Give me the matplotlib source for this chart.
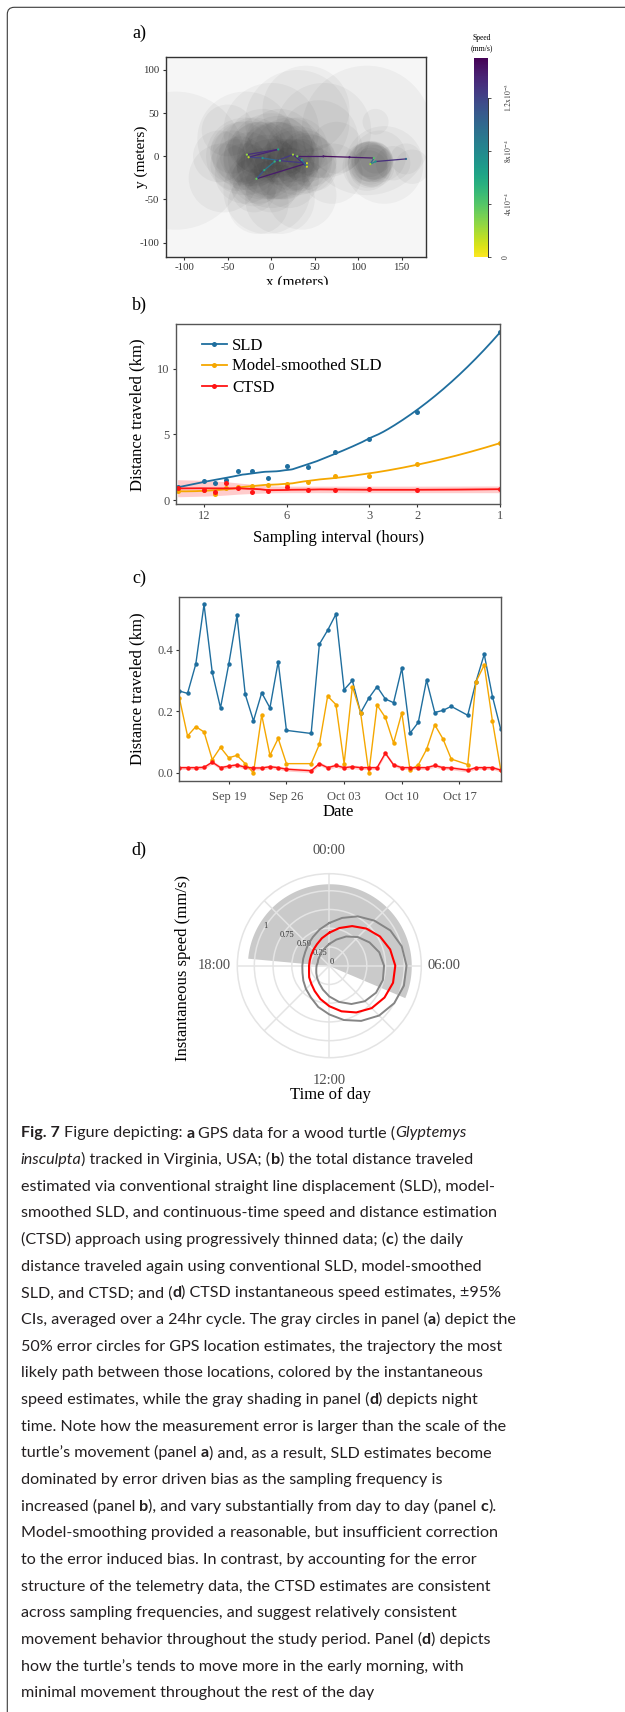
#Turtle movement figure: GPS error circles, distance traveled, daily distance, speed by hour

import numpy as np
import pandas as pd
import matplotlib
matplotlib.use("Agg")
import matplotlib.pyplot as plt
import matplotlib.patches as mpatches
import matplotlib.transforms as mtransforms
from matplotlib.collections import LineCollection, PatchCollection
from matplotlib.lines import Line2D
from matplotlib.ticker import NullLocator

# ---------------- data ----------------
# a) 50% GPS error circles (meters)
circ_x = [-30, -20, -10, 0, 10, 20, 30, 40, -25, -15, -20, 5, 25, 35, -5, 15, -35, 45, 8, -28,
          -40, -30, 0, 20, 30, -10, 10, -45, 50, -20, 0, -15, 25, 40, -35, 5,
          0, 30, 60, -30, -15, 35, 10, 70, -60, -110, 40, 110, 75, -50, -5, 55, -55,
          113, 118, 115, 110, 120, 112, 116, 114, 119, 111, 117, 113, 120, 155, 162, 140, 125, 130]
circ_y = [0, 5, -5, 0, -5, 5, -5, -8, -2, -25, -30, 5, 0, -10, -10, -15, 5, -5, 7, 1,
          -10, -20, -20, -25, 10, 15, 15, 5, -15, -40, -35, 10, -10, 0, -5, -5,
          30, 40, 30, 20, -55, -45, -50, -20, 0, -5, 55, 30, 10, 30, -40, 20, -25,
          -8, -5, -10, -12, -2, -15, -6, -9, -7, -6, -11, -3, 40, -3, -12, -8, 0, -10]
circ_r = [45, 40, 45, 50, 45, 40, 40, 35, 30, 30, 28, 35, 30, 30, 35, 35, 35, 30, 40, 40,
          30, 35, 40, 35, 35, 40, 40, 25, 25, 25, 30, 30, 30, 30, 28, 45,
          55, 60, 55, 55, 35, 40, 40, 35, 30, 80, 50, 75, 30, 30, 50, 45, 40,
          25, 22, 20, 28, 18, 22, 24, 26, 20, 23, 25, 21, 15, 18, 20, 20, 30, 45]

# most likely path and instantaneous speed (mm/s)
path_x = [-28, 8, -26, -10, 10, 41, -17, -8, 4, 25, 41, 35, 30, 60, 90, 118, 114, 120, 155]
path_y = [2, 8, -1, -2, -5, -8, -26, -16, -6, 2, -12, -4, 0, 0, -1, -2, -9, -6, -3]
seg_speed = [1.30e-3, 1.35e-3, 1.20e-3, 1.00e-3, 1.25e-3, 1.40e-3, 1.10e-3, 0.90e-3, 1.25e-3,
             1.30e-3, 0.95e-3, 1.20e-3, 1.40e-3, 1.45e-3, 1.40e-3, 1.00e-3, 0.80e-3, 1.30e-3]
node_speed = [0.25e-3, 0.6e-3, 0.15e-3, 0.7e-3, 0.45e-3, 0.1e-3, 0.35e-3, 0.55e-3, 0.5e-3, 0.2e-3,
              0.1e-3, 0.6e-3, 0.3e-3, 1.4e-3, 1.4e-3, 0.4e-3, 0.2e-3, 0.7e-3, 1.0e-3]

# b) total distance (km) vs sampling interval (hours)
interval_h = [15, 12, 11, 10, 9, 8, 7, 6, 5, 4, 3, 2, 1]
sld_km = [1.0, 1.47, 1.27, 1.5, 2.21, 2.24, 1.65, 2.57, 2.55, 3.69, 4.66, 6.67, 12.8]
msld_km = [0.7, 0.76, 0.46, 0.89, 1.02, 1.07, 1.14, 1.22, 1.4, 1.86, 1.86, 2.72, 4.33]
ctsd_km = [0.95, 0.76, 0.63, 1.32, 0.94, 0.63, 0.70, 0.96, 0.76, 0.76, 0.82, 0.76, 0.83]
ctsd_lo = [0.25, 0.3, 0.33, 0.38, 0.45, 0.5, 0.55, 0.56, 0.56, 0.56, 0.56, 0.56, 0.56]
ctsd_hi = [1.55, 1.5, 1.45, 1.4, 1.3, 1.2, 1.08, 1.06, 1.06, 1.06, 1.06, 1.06, 1.07]

# c) daily distance (km); days counted from Sep 13
day_idx = [0, 1, 2, 3, 4, 5, 6, 7, 8, 9, 10, 11, 12, 13, 16, 17, 18, 19, 20, 21, 22, 23, 24, 25,
           26, 27, 28, 29, 30, 31, 32, 33, 35, 36, 37, 38, 39]
sld_day = [0.266, 0.258, 0.353, 0.547, 0.326, 0.211, 0.353, 0.511, 0.255, 0.169, 0.26, 0.211,
           0.361, 0.138, 0.128, 0.418, 0.463, 0.515, 0.27, 0.30, 0.195, 0.243, 0.28, 0.24, 0.228,
           0.34, 0.129, 0.164, 0.301, 0.196, 0.203, 0.216, 0.187, 0.296, 0.385, 0.248, 0.142]
msld_day = [0.244, 0.12, 0.15, 0.133, 0.043, 0.083, 0.049, 0.057, 0.03, 0.0, 0.188, 0.057, 0.112,
            0.03, 0.03, 0.093, 0.249, 0.222, 0.03, 0.28, 0.195, 0.0, 0.22, 0.18, 0.097, 0.195,
            0.009, 0.026, 0.076, 0.156, 0.11, 0.045, 0.027, 0.296, 0.35, 0.168, 0.011]
ctsd_day = [0.017, 0.017, 0.017, 0.018, 0.035, 0.017, 0.022, 0.026, 0.018, 0.016, 0.016, 0.02,
            0.017, 0.012, 0.007, 0.03, 0.017, 0.024, 0.017, 0.02, 0.017, 0.017, 0.017, 0.064,
            0.026, 0.017, 0.017, 0.017, 0.017, 0.024, 0.017, 0.016, 0.009, 0.017, 0.017, 0.017, 0.009]
ctsd_day_ci = 0.006

# d) instantaneous speed (mm/s) by hour of day
hour_of_day = list(range(24))
speed_mean = [0.44, 0.52, 0.61, 0.70, 0.78, 0.84, 0.88, 0.88, 0.85, 0.80, 0.72, 0.63,
              0.54, 0.46, 0.39, 0.34, 0.31, 0.28, 0.27, 0.27, 0.28, 0.30, 0.33, 0.38]
speed_hi = [0.57, 0.66, 0.76, 0.85, 0.94, 1.00, 1.03, 1.03, 1.00, 0.94, 0.85, 0.75,
            0.65, 0.57, 0.49, 0.44, 0.40, 0.37, 0.36, 0.36, 0.37, 0.40, 0.44, 0.50]
speed_lo = [0.29, 0.36, 0.45, 0.54, 0.62, 0.69, 0.73, 0.74, 0.72, 0.67, 0.59, 0.50,
            0.41, 0.33, 0.27, 0.23, 0.20, 0.18, 0.17, 0.16, 0.17, 0.18, 0.21, 0.24]
night_start, night_end = 18.35, 7.53

# ---------------- figure ----------------
W, H = 625, 1712
plt.rcParams['font.family'] = ['Liberation Serif', 'DejaVu Serif']
plt.rcParams['mathtext.fontset'] = 'stix'
plt.rcParams['axes.unicode_minus'] = False
fig = plt.figure(figsize=(W / 100, H / 100), dpi=100)


def box(l, t, r, b):
    return [l / W, 1 - b / H, (r - l) / W, (b - t) / H]


def ftext(x, y, s, **kw):
    return fig.text(x / W, 1 - y / H, s, **kw)


def loess(x, y, xg, span=0.75):
    # local quadratic fit with tricube weights (like geom_smooth's default)
    x = np.asarray(x, float)
    y = np.asarray(y, float)
    q = int(np.floor(len(x) * span))
    out = []
    for x0 in xg:
        d = np.abs(x - x0)
        h = np.sort(d)[q - 1]
        w = np.clip(1 - (d / h) ** 3, 0, None) ** 3
        coef = np.polyfit(x - x0, y, 2, w=np.sqrt(w))
        out.append(coef[-1])
    return np.array(out)


BLUE, ORANGE, RED = '#1f6e9e', '#f5a700', '#ff1414'
TICK = '#4d4d4d'

# ---- a) ----
axa = fig.add_axes(box(165.7, 57.3, 426, 257))
axa.set_facecolor('#f6f6f6')
circles = [mpatches.Circle((x, y), r) for x, y, r in zip(circ_x, circ_y, circ_r)]
axa.add_collection(PatchCollection(circles, facecolor='black', edgecolor='none', alpha=0.037))
pts = np.column_stack([path_x, path_y])
segs = np.stack([pts[:-1], pts[1:]], axis=1)
norm = plt.Normalize(0, 1.5e-3)
lc = LineCollection(segs, cmap='viridis_r', norm=norm, linewidths=0.9, zorder=3)
lc.set_array(np.array(seg_speed))
axa.add_collection(lc)
axa.scatter(path_x, path_y, c=node_speed, cmap='viridis_r', norm=norm, s=2.5, marker='o',
            linewidths=0, zorder=4)
axa.set_xlim(-121.4, 178)
axa.set_ylim(-116.6, 114.7)
axa.set_xticks([-100, -50, 0, 50, 100, 150])
axa.set_yticks([-100, -50, 0, 50, 100])
axa.tick_params(length=2.5, width=0.8, color='#333333', labelsize=7.8, labelcolor='#333333', pad=2)
for s in axa.spines.values():
    s.set_color('#333333')
    s.set_linewidth(1.0)
ftext(141.7, 156.7, 'y (meters)', rotation=90, ha='center', va='center', fontsize=11)
ftext(296.7, 286, 'x (meters)', ha='center', va='baseline', fontsize=11)
# lower part of the x title is hidden under panel b
fig.add_artist(mpatches.Rectangle((120 / W, 1 - 292 / H), 340 / W, 7.5 / H,
                                  transform=fig.transFigure, color='white', zorder=5))

cax = fig.add_axes(box(474.3, 57.7, 488.3, 257.3))
sm = plt.cm.ScalarMappable(norm=norm, cmap='viridis_r')
cb = fig.colorbar(sm, cax=cax)
cb.outline.set_visible(False)
cb.set_ticks([0, 4e-4, 8e-4, 1.2e-3])
cb.set_ticklabels(['0', r'$4\mathrm{x}10^{-4}$', r'$8\mathrm{x}10^{-4}$', r'$1.2\mathrm{x}10^{-3}$'])
cax.tick_params(length=2, width=0.6, color='#333333', labelsize=5.5, labelcolor='#333333', pad=8)
for lab in cax.get_yticklabels():
    lab.set_rotation(90)
    lab.set_va('center')
cax.plot([1, 1], [0, 1.2e-3], color='#333333', lw=0.7, clip_on=False)
ftext(481.7, 43, 'Speed\n(mm/s)', ha='center', va='center', fontsize=5.5, linespacing=1.3)

# ---- b) ----
axb = fig.add_axes(box(176, 324, 500, 504))
axb.fill_between(interval_h, ctsd_lo, ctsd_hi, color='#ff0000', alpha=0.2, lw=0)
u = np.log(interval_h)
ug = np.linspace(u.min(), u.max(), 200)
series_b = [(sld_km, BLUE, 'SLD'), (msld_km, ORANGE, 'Model-smoothed SLD'), (ctsd_km, RED, 'CTSD')]
for vals, col, name in series_b:
    axb.plot(np.exp(ug), loess(u, vals, ug), color=col, lw=1.3)
    axb.plot(interval_h, vals, 'o', color=col, ms=3.6, mew=0)
axb.set_xscale('log')
axb.set_xlim(15.2, 1)
axb.set_ylim(-0.3, 13.4)
axb.set_xticks([12, 6, 3, 2, 1])
axb.set_xticklabels(['12', '6', '3', '2', '1'])
axb.xaxis.set_minor_locator(NullLocator())
axb.set_yticks([0, 5, 10])
handles = [Line2D([], [], color=c, marker='o', ms=3.6, mew=0, lw=1.3) for _, c, _ in series_b]
axb.legend(handles, [n for _, _, n in series_b], loc='upper left', bbox_to_anchor=(0.08, 0.925),
           frameon=False, fontsize=12, handlelength=1.5, handletextpad=0.3,
           labelspacing=0.3, borderpad=0, borderaxespad=0)
ftext(137.3, 415, 'Distance traveled (km)', rotation=90, ha='center', va='center', fontsize=12)
ftext(338.3, 538.3, 'Sampling interval (hours)', ha='center', va='center', fontsize=12)

# ---- c) ----
axc = fig.add_axes(box(179.3, 596.7, 500.7, 780.5))
dates = pd.Timestamp('2016-09-13') + pd.to_timedelta(day_idx, unit='D')
ctsd_arr = np.array(ctsd_day)
axc.fill_between(dates, ctsd_arr - ctsd_day_ci, ctsd_arr + ctsd_day_ci, color='#ff0000',
                 alpha=0.2, lw=0)
axc.plot(dates, sld_day, '-o', color=BLUE, lw=1.0, ms=3.2, mew=0)
axc.plot(dates, msld_day, '-o', color=ORANGE, lw=1.0, ms=3.2, mew=0)
axc.plot(dates, ctsd_day, '-o', color=RED, lw=1.0, ms=3.2, mew=0)
axc.set_xlim(dates[0], dates[-1])
axc.set_ylim(-0.0247, 0.572)
xt = pd.to_datetime(['2016-09-19', '2016-09-26', '2016-10-03', '2016-10-10', '2016-10-17'])
axc.set_xticks(xt)
axc.set_xticklabels([d.strftime('%b %d') for d in xt])
axc.set_yticks([0.0, 0.2, 0.4])
axc.set_yticklabels(['0.0', '0.2', '0.4'])
ftext(137.3, 688.3, 'Distance traveled (km)', rotation=90, ha='center', va='center', fontsize=12)
ftext(338.3, 811.7, 'Date', ha='center', va='center', fontsize=12)

for ax in (axb, axc):
    ax.tick_params(length=2.5, width=0.8, color='#333333', labelsize=9, labelcolor=TICK, pad=2)
    for s in ax.spines.values():
        s.set_color('#555555')
        s.set_linewidth(1.0)
axc.tick_params(axis='x', pad=5)

# ---- d) ----
axd = fig.add_axes(box(237.3, 873.7, 421.3, 1057.7), projection='polar')
axd.set_theta_zero_location('N')
axd.set_theta_direction(-1)
hours = np.array(hour_of_day + [24])
theta = hours / 24 * 2 * np.pi
th_night = np.linspace(night_start, night_end + 24, 300) / 24 * 2 * np.pi
axd.fill_between(th_night, 0, 1.093, color='#cacaca', lw=0, zorder=0.5)
axd.plot(theta, speed_hi + speed_hi[:1], color='#858585', lw=1.4, zorder=3)
axd.plot(theta, speed_lo + speed_lo[:1], color='#858585', lw=1.4, zorder=3)
axd.plot(theta, speed_mean + speed_mean[:1], color='#ff0000', lw=1.5, zorder=4)
axd.set_ylim(0, 1.227)
axd.set_axisbelow(False)
axd.set_xticks(np.arange(8) * np.pi / 4)
axd.set_xticklabels([''] * 8)
axd.set_yticks([0, 0.25, 0.5, 0.75, 1])
axd.set_yticklabels(['0', '0.25', '0.50', '0.75', '1'])
axd.set_rlabel_position(298)
axd.tick_params(axis='y', labelsize=6, labelcolor='#333333')
for lab in axd.get_yticklabels():
    lab.set_rotation(55)
axd.grid(True, color='#e4e4e4', lw=1.1)
axd.spines['polar'].set_color('#e4e4e4')
axd.spines['polar'].set_linewidth(1.1)
for hh, lab in zip([0, 6, 12, 18], ['00:00', '06:00', '12:00', '18:00']):
    axd.text(hh / 24 * 2 * np.pi, 1.53, lab, ha='center', va='center', fontsize=10.5,
             color=TICK, clip_on=False)
ftext(183.3, 968, 'Instantaneous speed (mm/s)', rotation=90, ha='center', va='center', fontsize=12)
ftext(330, 1095, 'Time of day', ha='center', va='center', fontsize=12)

# panel letters
for lab, yy in zip(['a)', 'b)', 'c)', 'd)'], [33.5, 305, 578, 850]):
    ftext(139, yy, lab, ha='center', va='center', fontsize=13)

# ---- caption ----
caption = [
    [("Fig. 7", "b"), (" Figure depicting: ", "r"), ("a", "b"), (" GPS data for a wood turtle (", "r"), ("Glyptemys", "i")],
    [("insculpta", "i"), (") tracked in Virginia, USA; (", "r"), ("b", "b"), (") the total distance traveled", "r")],
    [("estimated via conventional straight line displacement (SLD), model-", "r")],
    [("smoothed SLD, and continuous-time speed and distance estimation", "r")],
    [("(CTSD) approach using progressively thinned data; (", "r"), ("c", "b"), (") the daily", "r")],
    [("distance traveled again using conventional SLD, model-smoothed", "r")],
    [("SLD, and CTSD; and (", "r"), ("d", "b"), (") CTSD instantaneous speed estimates, \u00b195%", "r")],
    [("CIs, averaged over a 24hr cycle. The gray circles in panel (", "r"), ("a", "b"), (") depict the", "r")],
    [("50% error circles for GPS location estimates, the trajectory the most", "r")],
    [("likely path between those locations, colored by the instantaneous", "r")],
    [("speed estimates, while the gray shading in panel (", "r"), ("d", "b"), (") depicts night", "r")],
    [("time. Note how the measurement error is larger than the scale of the", "r")],
    [("turtle\u2019s movement (panel ", "r"), ("a", "b"), (") and, as a result, SLD estimates become", "r")],
    [("dominated by error driven bias as the sampling frequency is", "r")],
    [("increased (panel ", "r"), ("b", "b"), ("), and vary substantially from day to day (panel ", "r"), ("c", "b"), (").", "r")],
    [("Model-smoothing provided a reasonable, but insufficient correction", "r")],
    [("to the error induced bias. In contrast, by accounting for the error", "r")],
    [("structure of the telemetry data, the CTSD estimates are consistent", "r")],
    [("across sampling frequencies, and suggest relatively consistent", "r")],
    [("movement behavior throughout the study period. Panel (", "r"), ("d", "b"), (") depicts", "r")],
    [("how the turtle\u2019s tends to move more in the early morning, with", "r")],
    [("minimal movement throughout the rest of the day", "r")],
]
CAP_FONT = 'Lato'
renderer = fig.canvas.get_renderer()


def text_w(s, size, **kw):
    t = fig.text(0, 0, s, family=CAP_FONT, fontsize=size, **kw)
    w = t.get_window_extent(renderer).width
    t.remove()
    return w


cap_size = 10 * 486 / text_w(caption[11][0][0], 10)
space_w = text_w('a a', cap_size) - text_w('aa', cap_size)

for k, runs in enumerate(caption):
    x = 20.7
    y = 1137.5 + 26.65 * k
    for txt, st in runs:
        lead = len(txt) - len(txt.lstrip(' '))
        trail = len(txt) - len(txt.rstrip(' '))
        x += lead * space_w
        core = txt.strip(' ')
        t = ftext(x, y, core, ha='left', va='baseline', family=CAP_FONT, fontsize=cap_size,
                  color='#231f20', weight='bold' if st == 'b' else 'normal',
                  style='italic' if st == 'i' else 'normal')
        x += t.get_window_extent(renderer).width + trail * space_w

# outer frame of the figure box
fig.add_artist(mpatches.FancyBboxPatch((7.3, -100), 800, H - 7.3 + 100,
                                       boxstyle='round,pad=0,rounding_size=7',
                                       transform=mtransforms.IdentityTransform(),
                                       fill=False, ec='#3a3a3a', lw=0.8, clip_on=False))

fig.savefig('out.png', dpi=100)
